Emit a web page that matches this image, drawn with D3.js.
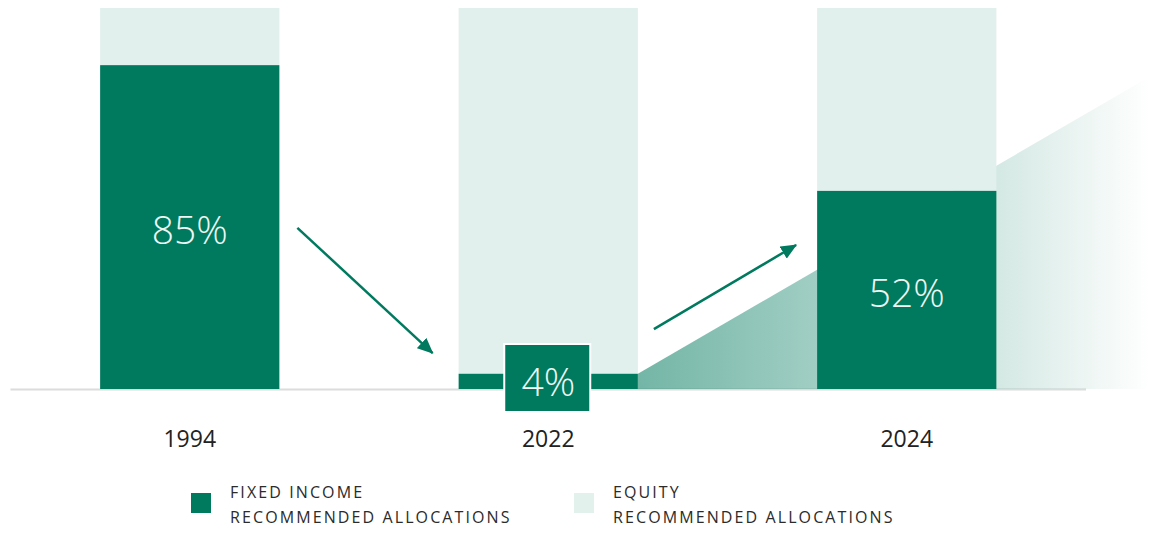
<!DOCTYPE html>
<html>
<head>
<meta charset="utf-8">
<script src="https://cdn.jsdelivr.net/npm/d3@7"></script>
<style>
  body { margin: 0; background: #fff; }
  svg { display: block; font-family: "Open Sans", "Noto Sans", sans-serif; }
</style>
</head>
<body>
<div id="chart"></div>
<script>
// values
var years = ["1994", "2022", "2024"];
var fixedIncome = [85, 4, 52];
var equity = [15, 96, 48];
var percentLabels = ["85%", "4%", "52%"];
var legendNames = ["FIXED INCOME", "EQUITY"];
var legendSub = "RECOMMENDED ALLOCATIONS";
// trend wedge: value at right edge of 2022 bar and at right edge of the page
var trendValues = [4, 82];

var W = 1150, H = 533;
var darkGreen = "#007a5e", lightGreen = "#e1f0ec";

var svg = d3.select("#chart").append("svg")
  .attr("width", W).attr("height", H);

var x = d3.scaleBand()
  .domain(years)
  .range([10.5, 1086])
  .paddingInner(0.5)
  .paddingOuter(0.25);

var y = d3.scaleLinear()
  .domain([0, 100])
  .range([389, 8]);

var defs = svg.append("defs");
var grad = defs.append("linearGradient")
  .attr("id", "wedgeGrad")
  .attr("gradientUnits", "userSpaceOnUse")
  .attr("x1", x("2022") + x.bandwidth()).attr("x2", W)
  .attr("y1", 0).attr("y2", 0);
grad.append("stop").attr("offset", "0%").attr("stop-color", darkGreen).attr("stop-opacity", 0.55);
grad.append("stop").attr("offset", "35%").attr("stop-color", darkGreen).attr("stop-opacity", 0.37);
grad.append("stop").attr("offset", "70%").attr("stop-color", darkGreen).attr("stop-opacity", 0.17);
grad.append("stop").attr("offset", "100%").attr("stop-color", darkGreen).attr("stop-opacity", 0);

defs.append("marker")
  .attr("id", "arrowHead")
  .attr("markerUnits", "userSpaceOnUse")
  .attr("viewBox", "0 0 16 14")
  .attr("refX", 15).attr("refY", 7)
  .attr("markerWidth", 16).attr("markerHeight", 14)
  .attr("orient", "auto")
  .append("path")
  .attr("d", "M0,0 L16,7 L0,14 Z")
  .attr("fill", darkGreen);

// baseline
svg.append("line")
  .attr("x1", x.range()[0]).attr("x2", x.range()[1])
  .attr("y1", y(0) + 0.5).attr("y2", y(0) + 0.5)
  .attr("stroke", "#dcdcdc").attr("stroke-width", 2);

// gradient wedge behind the 2024 bar
var wx0 = x("2022") + x.bandwidth();
svg.append("path")
  .attr("d", d3.line()([
    [wx0, y(0)],
    [wx0, y(trendValues[0])],
    [W, y(trendValues[1])],
    [W, y(0)]
  ]) + "Z")
  .attr("fill", "url(#wedgeGrad)");

// stacked bars
var rows = years.map(function (d, i) {
  return { year: d, fi: fixedIncome[i], eq: equity[i], label: percentLabels[i] };
});

var g = svg.selectAll("g.bar").data(rows).enter().append("g").attr("class", "bar");

g.append("rect")
  .attr("x", function (d) { return x(d.year); })
  .attr("width", x.bandwidth())
  .attr("y", function (d) { return y(d.fi + d.eq); })
  .attr("height", function (d) { return y(d.fi) - y(d.fi + d.eq); })
  .attr("fill", lightGreen);

g.append("rect")
  .attr("x", function (d) { return x(d.year); })
  .attr("width", x.bandwidth())
  .attr("y", function (d) { return y(d.fi); })
  .attr("height", function (d) { return y(0) - y(d.fi); })
  .attr("fill", darkGreen);

// percent labels
rows.forEach(function (d) {
  var cx = x(d.year) + x.bandwidth() / 2;
  if (d.fi < 20) {
    // small value gets its own box over the baseline
    svg.append("rect")
      .attr("x", cx - 44).attr("y", 344)
      .attr("width", 86).attr("height", 68)
      .attr("fill", darkGreen)
      .attr("stroke", "#fff").attr("stroke-width", 2);
    svg.append("text")
      .attr("x", cx).attr("y", 396)
      .attr("text-anchor", "middle")
      .attr("font-size", 39).attr("font-weight", 300)
      .attr("fill", "#eef7f4")
      .text(d.label);
  } else {
    svg.append("text")
      .attr("x", cx).attr("y", (y(d.fi) + y(0)) / 2 + 17)
      .attr("text-anchor", "middle")
      .attr("font-size", 39).attr("font-weight", 300)
      .attr("fill", "#eef7f4")
      .text(d.label);
  }
});

// year labels
svg.append("g").selectAll("text").data(years).enter().append("text")
  .attr("x", function (d) { return x(d) + x.bandwidth() / 2; })
  .attr("y", 447)
  .attr("text-anchor", "middle")
  .attr("font-size", 23)
  .attr("fill", "#222")
  .text(function (d) { return d; });

// arrows
var arrows = [
  { x1: x("1994") + x.bandwidth() + 18, v1: 42.3, x2: x("2022") - 26, v2: 9.4 },
  { x1: x("2022") + x.bandwidth() + 16, v1: 15.7, x2: x("2024") - 21, v2: 37.8 }
];
svg.selectAll("line.arrow").data(arrows).enter().append("line")
  .attr("class", "arrow")
  .attr("x1", function (d) { return d.x1; })
  .attr("y1", function (d) { return y(d.v1); })
  .attr("x2", function (d) { return d.x2; })
  .attr("y2", function (d) { return y(d.v2); })
  .attr("stroke", darkGreen)
  .attr("stroke-width", 2.5)
  .attr("marker-end", "url(#arrowHead)");

// legend
var legendX = [191, 574];
var legendColors = [darkGreen, "#e3f1ed"];
legendNames.forEach(function (name, i) {
  var lg = svg.append("g").attr("transform", "translate(" + legendX[i] + ",493)");
  lg.append("rect").attr("width", 20).attr("height", 20).attr("fill", legendColors[i]);
  lg.append("text")
    .attr("x", 39).attr("y", 5)
    .attr("font-size", 16).attr("font-weight", 500).attr("letter-spacing", 2.1)
    .attr("fill", "#2b2b2b")
    .text(name);
  lg.append("text")
    .attr("x", 39).attr("y", 30)
    .attr("font-size", 16).attr("font-weight", 500).attr("letter-spacing", 2.1)
    .attr("fill", "#2b2b2b")
    .text(legendSub);
});
</script>
</body>
</html>
